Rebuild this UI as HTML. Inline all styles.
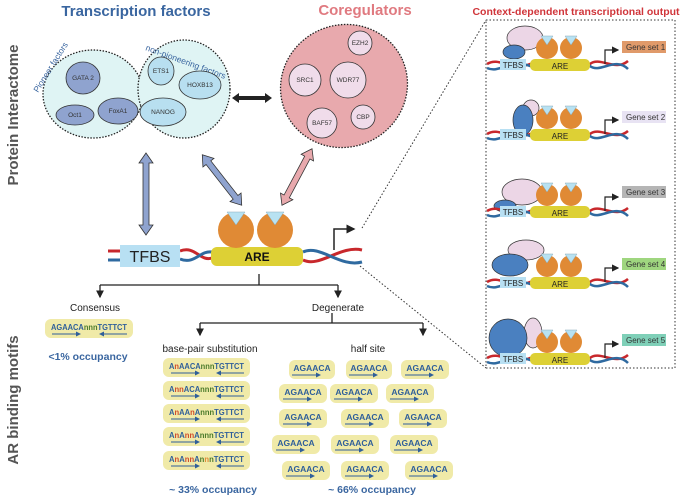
<!DOCTYPE html>
<html><head><meta charset="utf-8"><style>
html,body{margin:0;padding:0;background:#fff;}
svg{display:block;font-family:"Liberation Sans",sans-serif;}
.s{font-size:8.5px;font-weight:bold;fill:#2f5f9a;}
</style></head><body>
<svg width="685" height="497" viewBox="0 0 685 497" xmlns="http://www.w3.org/2000/svg">
<defs>
<marker id="ah" markerWidth="6" markerHeight="6" refX="5" refY="3" orient="auto"><path d="M0,0 L6,3 L0,6 z" fill="#222"/></marker>
<marker id="sa" markerWidth="5" markerHeight="5" refX="4" refY="2.5" orient="auto"><path d="M0,0 L5,2.5 L0,5 z" fill="#2f5f9a"/></marker>
<g id="orange"><circle r="18" fill="#e08a35"/><path d="M-9,-18 L9,-18 L0,-5 z" fill="#b8e2f2" stroke="#8ab" stroke-width="0.5"/></g>
<g id="os"><circle r="11" fill="#e08a35"/><path d="M-6,-12 L6,-12 L0,-3 z" fill="#b8e2f2" stroke="#8ab" stroke-width="0.5"/></g>
<g id="row">
 <path d="M487,0 C500,-8 510,8 530,0 L590,0 C600,-8 615,8 628,-3" stroke="#c8282c" stroke-width="2.5" fill="none"/>
 <path d="M487,4 C500,10 510,-6 530,2 L590,2 C600,10 615,-8 628,5" stroke="#2f6aa0" stroke-width="2.5" fill="none"/>
 <rect x="500" y="-5" width="26" height="11" fill="#b8e0f3"/>
 <text x="513" y="4" font-size="8" text-anchor="middle" fill="#222">TFBS</text>
 <rect x="530" y="-5" width="60" height="12" rx="5" fill="#ddd035"/>
 <text x="560" y="5" font-size="8" text-anchor="middle" fill="#222">ARE</text>
 <use href="#os" x="547" y="-16"/><use href="#os" x="571" y="-16"/>
 <path d="M605,0 V-14 H618" stroke="#222" stroke-width="1.2" fill="none" marker-end="url(#ah)"/>
</g>
<g id="seq"><line x1="-36" y1="6" x2="-8" y2="6" stroke="#2f5f9a" marker-end="url(#sa)"/></g>
</defs>

<text x="136" y="16" font-size="15" font-weight="bold" fill="#3a66a0" text-anchor="middle">Transcription factors</text>
<text x="365" y="15" font-size="15" font-weight="bold" fill="#e07a80" text-anchor="middle">Coregulators</text>
<text x="576" y="15" font-size="10.5" font-weight="bold" fill="#d0353a" text-anchor="middle">Context-dependent transcriptional output</text>
<text transform="translate(18,115) rotate(-90)" font-size="15" font-weight="bold" fill="#555" text-anchor="middle">Protein Interactome</text>
<text transform="translate(18,400) rotate(-90)" font-size="15" font-weight="bold" fill="#555" text-anchor="middle">AR binding motifs</text>

<ellipse cx="93" cy="94" rx="50" ry="44" fill="#dff4f4" stroke="#222" stroke-width="1.3" stroke-dasharray="1.5,1.5"/>
<ellipse cx="184" cy="89" rx="46" ry="49" fill="#dff4f4" stroke="#222" stroke-width="1.3" stroke-dasharray="1.5,1.5"/>
<text transform="translate(38,93) rotate(-58)" font-size="8.5" fill="#3a66a0">Pioneer factors</text>
<text transform="translate(145,50) rotate(20)" font-size="8.5" fill="#3a66a0">non-pioneering factors</text>
<g stroke="#333" stroke-width="0.8">
<ellipse cx="83" cy="78" rx="17" ry="16" fill="#8fa3cf"/>
<ellipse cx="75" cy="115" rx="19" ry="10" fill="#8fa3cf"/>
<ellipse cx="118" cy="111" rx="20" ry="13" fill="#8fa3cf"/>
<ellipse cx="161" cy="71" rx="13" ry="14" fill="#b8dff0"/>
<ellipse cx="200" cy="85" rx="21" ry="14" fill="#b8dff0"/>
<ellipse cx="163" cy="112" rx="23" ry="14" fill="#b8dff0"/>
</g>
<g font-size="6.5" fill="#333" text-anchor="middle">
<text x="83" y="80">GATA 2</text><text x="75" y="117">Oct1</text><text x="118" y="113">FoxA1</text>
<text x="161" y="73">ETS1</text><text x="200" y="87">HOXB13</text><text x="163" y="114">NANOG</text>
</g>

<ellipse cx="344" cy="86" rx="64" ry="61" transform="rotate(-25 344 86)" fill="#e8a9ad" stroke="#222" stroke-width="1.3" stroke-dasharray="1.5,1.5"/>
<g stroke="#333" stroke-width="0.8" fill="#f0dcea">
<circle cx="360" cy="43" r="12"/><circle cx="305" cy="80" r="16"/><circle cx="348" cy="80" r="18"/><circle cx="322" cy="123" r="15"/><circle cx="363" cy="117" r="12"/>
</g>
<g font-size="6.5" fill="#333" text-anchor="middle">
<text x="360" y="45">EZH2</text><text x="305" y="82">SRC1</text><text x="348" y="82">WDR77</text><text x="322" y="125">BAF57</text><text x="363" y="119">CBP</text>
</g>

<polygon points="232,98 239,93 239,96 265,96 265,93 272,98 265,103 265,100 239,100 239,103" fill="#222"/>
<g stroke="#333" stroke-width="0.8">
<polygon transform="translate(146,194) rotate(90)" points="-41,0 -31,-7 -31,-3 31,-3 31,-7 41,0 31,7 31,3 -31,3 -31,7" fill="#8fa3cf"/>
<polygon transform="translate(222,180) rotate(52)" points="-32,0 -22,-7 -22,-3 22,-3 22,-7 32,0 22,7 22,3 -22,3 -22,7" fill="#8fa3cf"/>
<polygon transform="translate(297,177) rotate(118)" points="-32,0 -22,-7 -22,-3 22,-3 22,-7 32,0 22,7 22,3 -22,3 -22,7" fill="#e8a9ad"/>
</g>

<path d="M108,251 L120,251 M180,251 C195,245 200,262 212,258 M303,260 C320,268 340,245 362,250" stroke="#c8282c" stroke-width="3" fill="none"/>
<path d="M108,260 L120,260 M180,259 C195,265 200,250 212,252 M303,252 C320,244 340,268 362,262" stroke="#2f6aa0" stroke-width="3" fill="none"/>
<rect x="120" y="245" width="60" height="22" fill="#b8e0f3"/>
<text x="150" y="262" font-size="16" text-anchor="middle" fill="#222">TFBS</text>
<rect x="211" y="247" width="92" height="19" rx="6" fill="#ddd035"/>
<text x="257" y="261" font-size="12" font-weight="bold" text-anchor="middle" fill="#111">ARE</text>
<use href="#orange" x="236" y="230"/><use href="#orange" x="275" y="230"/>
<path d="M334,250 V229 H354" stroke="#222" stroke-width="1.5" fill="none" marker-end="url(#ah)"/>

<line x1="362" y1="228" x2="486" y2="20" stroke="#333" stroke-dasharray="1.5,2"/>
<line x1="360" y1="266" x2="486" y2="368" stroke="#333" stroke-dasharray="1.5,2"/>
<rect x="486" y="20" width="189" height="348" fill="none" stroke="#333" stroke-dasharray="1.5,2"/>

<ellipse cx="525" cy="38" rx="18" ry="12" fill="#ecd6e6" stroke="#333" stroke-width="0.7"/>
<ellipse cx="514" cy="52" rx="11" ry="7" fill="#4a80c0" stroke="#333" stroke-width="0.7"/>
<use href="#row" y="64"/>
<ellipse cx="531" cy="108" rx="8" ry="8" fill="#ecd6e6" stroke="#333" stroke-width="0.7"/>
<ellipse cx="523" cy="120" rx="10" ry="15" fill="#4a80c0" stroke="#333" stroke-width="0.7"/>
<use href="#row" y="134"/>
<ellipse cx="522" cy="192" rx="20" ry="13" fill="#ecd6e6" stroke="#333" stroke-width="0.7"/>
<ellipse cx="505" cy="206" rx="11" ry="6" fill="#4a80c0" stroke="#333" stroke-width="0.7"/>
<use href="#row" y="211"/>
<ellipse cx="526" cy="250" rx="18" ry="10" fill="#ecd6e6" stroke="#333" stroke-width="0.7"/>
<ellipse cx="510" cy="265" rx="18" ry="11" fill="#4a80c0" stroke="#333" stroke-width="0.7"/>
<use href="#row" y="282"/>
<ellipse cx="533" cy="333" rx="9" ry="15" fill="#ecd6e6" stroke="#333" stroke-width="0.7"/>
<ellipse cx="508" cy="338" rx="19" ry="19" fill="#4a80c0" stroke="#333" stroke-width="0.7"/>
<use href="#row" y="358"/>
<g font-size="8" fill="#333">
<rect x="622" y="41" width="44" height="12" fill="#e09a6a"/><text x="626" y="50">Gene set 1</text>
<rect x="622" y="111" width="44" height="12" fill="#e8e3f3"/><text x="626" y="120">Gene set 2</text>
<rect x="622" y="186" width="44" height="12" fill="#b5b5b5"/><text x="626" y="195">Gene set 3</text>
<rect x="622" y="258" width="44" height="12" fill="#9fd67f"/><text x="626" y="267">Gene set 4</text>
<rect x="622" y="334" width="44" height="12" fill="#7fd0b8"/><text x="626" y="343">Gene set 5</text>
</g>

<g stroke="#222" stroke-width="1.3" fill="none">
<path d="M259,274 V285 M100,285 H338"/>
<path d="M100,285 V297" marker-end="url(#ah)"/><path d="M338,285 V297" marker-end="url(#ah)"/>
<path d="M332,313 V323 M200,323 H423"/>
<path d="M200,323 V335" marker-end="url(#ah)"/><path d="M423,323 V335" marker-end="url(#ah)"/>
</g>
<g font-size="10" fill="#222" text-anchor="middle">
<text x="95" y="311">Consensus</text><text x="338" y="311">Degenerate</text>
<text x="210" y="352">base-pair substitution</text><text x="368" y="352">half site</text>
</g>

<rect x="45" y="319" width="88" height="19" rx="6" fill="#f0eaa8"/>
<text x="51" y="330" class="s" textLength="76" lengthAdjust="spacingAndGlyphs">AGAACA<tspan fill="#4a7a2a">nnn</tspan>TGTTCT</text>
<line x1="52" y1="334" x2="80" y2="334" stroke="#2f5f9a" marker-end="url(#sa)"/>
<line x1="127" y1="334" x2="100" y2="334" stroke="#2f5f9a" marker-end="url(#sa)"/>
<text x="88" y="360" font-size="10.5" font-weight="bold" fill="#3a66a0" text-anchor="middle">&lt;1%  occupancy</text>

<g>
<rect x="163" y="358" width="87" height="19" rx="6" fill="#f0eaa8"/>
<rect x="163" y="381" width="87" height="19" rx="6" fill="#f0eaa8"/>
<rect x="163" y="404" width="87" height="19" rx="6" fill="#f0eaa8"/>
<rect x="163" y="427" width="87" height="19" rx="6" fill="#f0eaa8"/>
<rect x="163" y="451" width="87" height="19" rx="6" fill="#f0eaa8"/>
</g>
<text x="169" y="369" class="s" textLength="75" lengthAdjust="spacingAndGlyphs">A<tspan fill="#d04a2a">n</tspan>AACA<tspan fill="#4a7a2a">nnn</tspan>TGTTCT</text>
<text x="169" y="392" class="s" textLength="75" lengthAdjust="spacingAndGlyphs">A<tspan fill="#d04a2a">nn</tspan>ACA<tspan fill="#4a7a2a">nnn</tspan>TGTTCT</text>
<text x="169" y="415" class="s" textLength="75" lengthAdjust="spacingAndGlyphs">A<tspan fill="#d04a2a">n</tspan>AA<tspan fill="#d04a2a">n</tspan>A<tspan fill="#4a7a2a">nnn</tspan>TGTTCT</text>
<text x="169" y="438" class="s" textLength="75" lengthAdjust="spacingAndGlyphs">A<tspan fill="#d04a2a">n</tspan>A<tspan fill="#d04a2a">nn</tspan>A<tspan fill="#4a7a2a">nnn</tspan>TGTTCT</text>
<text x="169" y="462" class="s" textLength="75" lengthAdjust="spacingAndGlyphs">A<tspan fill="#d04a2a">n</tspan>A<tspan fill="#d04a2a">nn</tspan>A<tspan fill="#4a7a2a">n</tspan><tspan fill="#e08a35">n</tspan><tspan fill="#4a7a2a">n</tspan>TGTTCT</text>
<g stroke="#2f5f9a">
<line x1="171" y1="373" x2="199" y2="373" marker-end="url(#sa)"/><line x1="244" y1="373" x2="217" y2="373" marker-end="url(#sa)"/>
<line x1="171" y1="396" x2="199" y2="396" marker-end="url(#sa)"/><line x1="244" y1="396" x2="217" y2="396" marker-end="url(#sa)"/>
<line x1="171" y1="419" x2="199" y2="419" marker-end="url(#sa)"/><line x1="244" y1="419" x2="217" y2="419" marker-end="url(#sa)"/>
<line x1="171" y1="442" x2="199" y2="442" marker-end="url(#sa)"/><line x1="244" y1="442" x2="217" y2="442" marker-end="url(#sa)"/>
<line x1="171" y1="466" x2="199" y2="466" marker-end="url(#sa)"/><line x1="244" y1="466" x2="217" y2="466" marker-end="url(#sa)"/>
</g>
<text x="213" y="493" font-size="10.5" font-weight="bold" fill="#3a66a0" text-anchor="middle">~ 33% occupancy</text>

<g>
<rect x="289" y="360" width="46" height="19" rx="6" fill="#f0eaa8"/>
<rect x="346" y="360" width="46" height="19" rx="6" fill="#f0eaa8"/>
<rect x="401" y="360" width="48" height="19" rx="6" fill="#f0eaa8"/>
<rect x="279" y="384" width="48" height="19" rx="6" fill="#f0eaa8"/>
<rect x="330" y="384" width="48" height="19" rx="6" fill="#f0eaa8"/>
<rect x="386" y="384" width="48" height="19" rx="6" fill="#f0eaa8"/>
<rect x="279" y="409" width="48" height="19" rx="6" fill="#f0eaa8"/>
<rect x="341" y="409" width="48" height="19" rx="6" fill="#f0eaa8"/>
<rect x="399" y="409" width="48" height="19" rx="6" fill="#f0eaa8"/>
<rect x="272" y="435" width="48" height="19" rx="6" fill="#f0eaa8"/>
<rect x="331" y="435" width="48" height="19" rx="6" fill="#f0eaa8"/>
<rect x="390" y="435" width="48" height="19" rx="6" fill="#f0eaa8"/>
<rect x="282" y="461" width="48" height="19" rx="6" fill="#f0eaa8"/>
<rect x="341" y="461" width="48" height="19" rx="6" fill="#f0eaa8"/>
<rect x="405" y="461" width="48" height="19" rx="6" fill="#f0eaa8"/>
</g>
<g class="s" text-anchor="middle">
<text x="312" y="371">AGAACA</text><text x="369" y="371">AGAACA</text><text x="425" y="371">AGAACA</text>
<text x="303" y="395">AGAACA</text><text x="354" y="395">AGAACA</text><text x="410" y="395">AGAACA</text>
<text x="303" y="420">AGAACA</text><text x="365" y="420">AGAACA</text><text x="423" y="420">AGAACA</text>
<text x="296" y="446">AGAACA</text><text x="355" y="446">AGAACA</text><text x="414" y="446">AGAACA</text>
<text x="306" y="472">AGAACA</text><text x="365" y="472">AGAACA</text><text x="429" y="472">AGAACA</text>
</g>
<g>
<use href="#seq" x="328" y="369"/><use href="#seq" x="385" y="369"/><use href="#seq" x="441" y="369"/>
<use href="#seq" x="319" y="393"/><use href="#seq" x="370" y="393"/><use href="#seq" x="426" y="393"/>
<use href="#seq" x="319" y="418"/><use href="#seq" x="381" y="418"/><use href="#seq" x="439" y="418"/>
<use href="#seq" x="312" y="444"/><use href="#seq" x="371" y="444"/><use href="#seq" x="430" y="444"/>
<use href="#seq" x="322" y="470"/><use href="#seq" x="381" y="470"/><use href="#seq" x="445" y="470"/>
</g>
<text x="372" y="493" font-size="10.5" font-weight="bold" fill="#3a66a0" text-anchor="middle">~ 66% occupancy</text>
</svg>
</body></html>
